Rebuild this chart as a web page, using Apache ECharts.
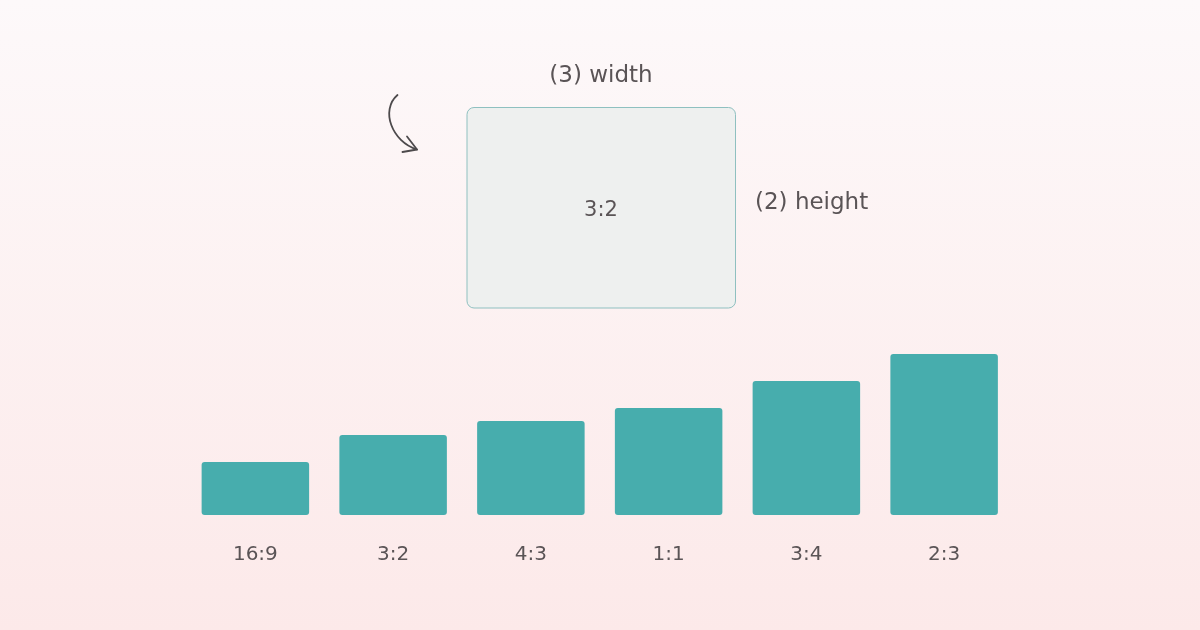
<!DOCTYPE html>
<html>
<head>
<meta charset="utf-8">
<script src="https://cdn.jsdelivr.net/npm/echarts@6/dist/echarts.min.js"></script>
<style>
html,body{margin:0;padding:0;}
#c{width:1200px;height:630px;}
</style>
</head>
<body>
<div id="c"></div>
<script>
const categories = ['16:9', '3:2', '4:3', '1:1', '3:4', '2:3'];
const barHeights = [53, 80, 94, 107, 134, 161];
const exampleRatio = '3:2';
const widthLabel = '(3) width';
const heightLabel = '(2) height';

const FONT = '"DejaVu Sans", "Open Sans", sans-serif';
const TXT = '#5a5456';

const chart = echarts.init(document.getElementById('c'));
chart.setOption({
  backgroundColor: {
    type: 'linear', x: 0, y: 0, x2: 0, y2: 1,
    colorStops: [{offset: 0, color: '#fdf9fa'}, {offset: 1, color: '#fce9e9'}]
  },
  animation: false,
  grid: {left: 186.5, right: 187, top: 354, bottom: 115},
  xAxis: {
    type: 'category',
    data: categories,
    axisLine: {show: false},
    axisTick: {show: false},
    axisLabel: {color: TXT, fontSize: 20, margin: 30, fontFamily: FONT}
  },
  yAxis: {
    type: 'value', min: 0, max: 161,
    show: false, splitLine: {show: false}
  },
  series: [{
    type: 'bar',
    data: barHeights,
    barWidth: 107.5,
    itemStyle: {color: '#47adad', borderRadius: 3}
  }],
  graphic: [
    {
      type: 'rect',
      shape: {x: 467, y: 107.5, width: 268.5, height: 200.5, r: 7},
      style: {fill: '#eef0ef', stroke: '#8fc0c0', lineWidth: 1}
    },
    {
      type: 'text', x: 601, y: 211,
      style: {text: exampleRatio, fill: TXT, fontSize: 21, fontFamily: FONT, align: 'center', verticalAlign: 'middle'}
    },
    {
      type: 'text', x: 601, y: 76,
      style: {text: widthLabel, fill: TXT, fontSize: 23, fontFamily: FONT, align: 'center', verticalAlign: 'middle'}
    },
    {
      type: 'text', x: 755, y: 203,
      style: {text: heightLabel, fill: TXT, fontSize: 23, fontFamily: FONT, align: 'left', verticalAlign: 'middle'}
    },
    {
      type: 'bezierCurve',
      shape: {x1: 397.5, y1: 95, cpx1: 380, cpy1: 110, cpx2: 392, cpy2: 142, x2: 417, y2: 149.5},
      style: {fill: null, stroke: '#4d4a4c', lineWidth: 1.8, lineCap: 'round'}
    },
    {
      type: 'polyline',
      shape: {points: [[407, 136.5], [417, 149.5], [402.5, 152]]},
      style: {fill: null, stroke: '#4d4a4c', lineWidth: 1.8, lineCap: 'round', lineJoin: 'round'}
    }
  ]
});
</script>
</body>
</html>
